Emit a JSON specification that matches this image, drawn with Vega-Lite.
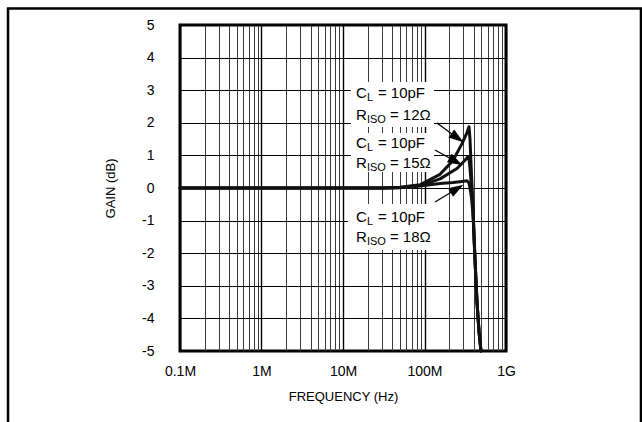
{
  "$schema": "https://vega.github.io/schema/vega-lite/v6.json",
  "width": 326,
  "height": 326,
  "autosize": {"type": "none"},
  "padding": {"left": 180, "top": 25, "right": 136, "bottom": 71},
  "background": "white",
  "config": {
    "view": {"stroke": "black", "strokeWidth": 3},
    "font": "Liberation Sans, Arial, sans-serif",
    "axis": {
      "labelFont": "Liberation Sans, Arial, sans-serif",
      "titleFont": "Liberation Sans, Arial, sans-serif",
      "labelColor": "black",
      "titleColor": "black",
      "titleFontWeight": "normal",
      "labelFontSize": 14,
      "titleFontSize": 13,
      "ticks": false,
      "domain": false,
      "grid": true,
      "labelFlush": false,
      "labelOverlap": false
    }
  },
  "datasets": {
    "curves": [
      {"f": 100000, "g": 0, "s": "12"},
      {"f": 28450000, "g": 0, "s": "12"},
      {"f": 50060000, "g": 0.02, "s": "12"},
      {"f": 88080000, "g": 0.1, "s": "12"},
      {"f": 155000000, "g": 0.42, "s": "12"},
      {"f": 223700000, "g": 0.84, "s": "12"},
      {"f": 288500000, "g": 1.36, "s": "12"},
      {"f": 332300000, "g": 1.7, "s": "12"},
      {"f": 351600000, "g": 1.88, "s": "12"},
      {"f": 361700000, "g": 1.5, "s": "12"},
      {"f": 377300000, "g": 0.4, "s": "12"},
      {"f": 393700000, "g": -0.6, "s": "12"},
      {"f": 416500000, "g": -2.2, "s": "12"},
      {"f": 440800000, "g": -3.5, "s": "12"},
      {"f": 466300000, "g": -4.4, "s": "12"},
      {"f": 493400000, "g": -5, "s": "12"},
      {"f": 100000, "g": 0, "s": "15"},
      {"f": 28450000, "g": 0, "s": "15"},
      {"f": 50060000, "g": 0.01, "s": "15"},
      {"f": 88080000, "g": 0.07, "s": "15"},
      {"f": 155000000, "g": 0.28, "s": "15"},
      {"f": 250400000, "g": 0.6, "s": "15"},
      {"f": 314000000, "g": 0.85, "s": "15"},
      {"f": 341800000, "g": 0.96, "s": "15"},
      {"f": 351600000, "g": 0.9, "s": "15"},
      {"f": 361700000, "g": 0.6, "s": "15"},
      {"f": 377300000, "g": 0.0, "s": "15"},
      {"f": 393700000, "g": -0.7, "s": "15"},
      {"f": 416500000, "g": -2.2, "s": "15"},
      {"f": 440800000, "g": -3.5, "s": "15"},
      {"f": 466300000, "g": -4.4, "s": "15"},
      {"f": 493400000, "g": -5, "s": "15"},
      {"f": 100000, "g": 0, "s": "18"},
      {"f": 38000000, "g": 0, "s": "18"},
      {"f": 66370000, "g": 0.03, "s": "18"},
      {"f": 116800000, "g": 0.1, "s": "18"},
      {"f": 155000000, "g": 0.14, "s": "18"},
      {"f": 223700000, "g": 0.17, "s": "18"},
      {"f": 288500000, "g": 0.2, "s": "18"},
      {"f": 332300000, "g": 0.22, "s": "18"},
      {"f": 351600000, "g": 0.15, "s": "18"},
      {"f": 361700000, "g": 0.0, "s": "18"},
      {"f": 377300000, "g": -0.3, "s": "18"},
      {"f": 393700000, "g": -0.8, "s": "18"},
      {"f": 416500000, "g": -2.2, "s": "18"},
      {"f": 440800000, "g": -3.5, "s": "18"},
      {"f": 466300000, "g": -4.4, "s": "18"},
      {"f": 493400000, "g": -5, "s": "18"}
    ],
    "boxes": [
      {"f": 12530000, "f2": 130900000, "g": 3.25, "g2": 1.87},
      {"f": 12530000, "f2": 130900000, "g": 1.69, "g2": 0.49},
      {"f": 11520000, "f2": 146400000, "g": -0.49, "g2": -1.9}
    ],
    "frame": [
      {"f": 776, "f2": 45300000000, "g": 5.506, "g2": -8}
    ],
    "arrows": [
      {"id": 1, "f": 142300000, "g": 1.994, "f2": 272700000, "g2": 1.472},
      {"id": 2, "f": 134500000, "g": 1.166, "f2": 257600000, "g2": 0.773},
      {"id": 3, "f": 134500000, "g": -0.429, "f2": 265100000, "g2": 0.015}
    ],
    "heads": [
      {"id": 1, "f": 253300000, "g": 1.537},
      {"id": 2, "f": 242900000, "g": 0.81},
      {"id": 3, "f": 250400000, "g": -0.018}
    ],
    "labels": [
      {"f": 14400000, "g": 2.914, "m": "C", "s": "L", "r": "= 10pF", "k": "C"},
      {"f": 14400000, "g": 2.239, "m": "R", "s": "ISO", "r": "= 12Ω", "k": "R"},
      {"f": 14400000, "g": 1.38, "m": "C", "s": "L", "r": "= 10pF", "k": "C"},
      {"f": 14400000, "g": 0.767, "m": "R", "s": "ISO", "r": "= 15Ω", "k": "R"},
      {"f": 14400000, "g": -0.89, "m": "C", "s": "L", "r": "= 10pF", "k": "C"},
      {"f": 14400000, "g": -1.503, "m": "R", "s": "ISO", "r": "= 18Ω", "k": "R"}
    ]
  },
  "encoding": {
    "x": {
      "field": "f",
      "type": "quantitative",
      "scale": {"type": "log", "domain": [100000, 1000000000], "nice": false},
      "axis": {
        "title": "FREQUENCY (Hz)",
        "values": [100000, 200000, 300000, 400000, 500000, 600000, 700000, 800000, 900000,
                   1000000, 2000000, 3000000, 4000000, 5000000, 6000000, 7000000, 8000000, 9000000,
                   10000000, 20000000, 30000000, 40000000, 50000000, 60000000, 70000000, 80000000, 90000000,
                   100000000, 200000000, 300000000, 400000000, 500000000, 600000000, 700000000, 800000000, 900000000,
                   1000000000],
        "labelExpr": "datum.value == 100000 ? '0.1M' : datum.value == 1000000 ? '1M' : datum.value == 10000000 ? '10M' : datum.value == 100000000 ? '100M' : datum.value == 1000000000 ? '1G' : ''",
        "gridColor": {"condition": {"test": "indexof([100000,1000000,10000000,100000000,1000000000], datum.value) >= 0", "value": "black"}, "value": "#3a3a3a"},
        "gridWidth": {"condition": {"test": "indexof([100000,1000000,10000000,100000000,1000000000], datum.value) >= 0", "value": 1.4}, "value": 1},
        "gridOpacity": 1,
        "labelPadding": 13,
        "titlePadding": 12
      }
    },
    "y": {
      "field": "g",
      "type": "quantitative",
      "scale": {"domain": [-5, 5], "nice": false},
      "axis": {
        "title": "GAIN (dB)",
        "values": [-5, -4, -3, -2, -1, 0, 1, 2, 3, 4, 5],
        "labelExpr": "datum.value + ''",
        "gridColor": "black",
        "gridWidth": 1,
        "gridOpacity": 1,
        "labelPadding": 26,
        "titlePadding": 24
      }
    }
  },
  "layer": [
    {
      "data": {"name": "frame"},
      "mark": {"type": "rect", "filled": false, "stroke": "black", "strokeWidth": 2.5, "clip": false},
      "encoding": {"x2": {"field": "f2"}, "y2": {"field": "g2"}}
    },
    {
      "data": {"name": "boxes"},
      "mark": {"type": "rect", "fill": "white", "stroke": null},
      "encoding": {"x2": {"field": "f2"}, "y2": {"field": "g2"}}
    },
    {
      "data": {"name": "curves"},
      "mark": {"type": "line", "color": "#111111", "strokeWidth": 3, "strokeJoin": "round", "strokeCap": "round"},
      "encoding": {"detail": {"field": "s"}}
    },
    {
      "data": {"name": "arrows"},
      "mark": {"type": "rule", "color": "black", "strokeWidth": 1.3},
      "encoding": {"x2": {"field": "f2"}, "y2": {"field": "g2"}}
    },
    {
      "data": {"name": "heads"},
      "transform": [{"filter": "datum.id == 1"}],
      "mark": {"type": "point", "shape": "M0,-1L0.65,1L-0.65,1Z", "filled": true, "color": "black", "opacity": 1, "size": 225, "angle": 126},
      "encoding": {}
    },
    {
      "data": {"name": "heads"},
      "transform": [{"filter": "datum.id == 2"}],
      "mark": {"type": "point", "shape": "M0,-1L0.65,1L-0.65,1Z", "filled": true, "color": "black", "opacity": 1, "size": 225, "angle": 119},
      "encoding": {}
    },
    {
      "data": {"name": "heads"},
      "transform": [{"filter": "datum.id == 3"}],
      "mark": {"type": "point", "shape": "M0,-1L0.65,1L-0.65,1Z", "filled": true, "color": "black", "opacity": 1, "size": 225, "angle": 59},
      "encoding": {}
    },
    {
      "data": {"name": "labels"},
      "mark": {"type": "text", "align": "left", "baseline": "middle", "fontSize": 15, "color": "black"},
      "encoding": {"text": {"field": "m"}}
    },
    {
      "data": {"name": "labels"},
      "mark": {"type": "text", "align": "left", "baseline": "middle", "fontSize": 11, "dx": 11, "dy": 5, "color": "black"},
      "encoding": {"text": {"field": "s"}}
    },
    {
      "data": {"name": "labels"},
      "transform": [{"filter": "datum.k == 'C'"}],
      "mark": {"type": "text", "align": "left", "baseline": "middle", "fontSize": 15, "dx": 22, "color": "black"},
      "encoding": {"text": {"field": "r"}}
    },
    {
      "data": {"name": "labels"},
      "transform": [{"filter": "datum.k == 'R'"}],
      "mark": {"type": "text", "align": "left", "baseline": "middle", "fontSize": 15, "dx": 34, "color": "black"},
      "encoding": {"text": {"field": "r"}}
    }
  ]
}
